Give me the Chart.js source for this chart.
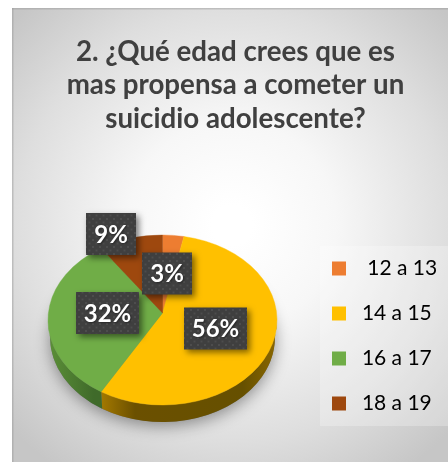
<!DOCTYPE html>
<html><head><meta charset="utf-8">
<style>html,body{margin:0;padding:0;background:#fff}canvas{display:block}</style>
<script src="https://cdn.jsdelivr.net/npm/chart.js@4"></script></head>
<body><div style="width:448px;height:462px"><canvas id="c" width="448" height="462"></canvas></div>
<script>
const titleLines = ['2. ¿Qué edad crees que es','mas propensa a cometer un','suicidio adolescente?'];
const categories = ['12 a 13','14 a 15','16 a 17','18 a 19'];
const values = [3,56,32,9];
const colors = ['#ED7D31','#FFC000','#70AD47','#9E480E'];
const labelCenters = [[167,273.5],[215.5,328.5],[107.5,313],[111,234]];
const font = 'Lato, Carlito, sans-serif';
const total = values.reduce((a,b)=>a+b,0);
const SX = 1.347, DEPTH = 17, APEX = -7;

const page = {
  id:'page',
  afterLayout(c){
    const a=c.chartArea;
    a.left=77.5;a.right=247.5;a.top=235;a.bottom=405;a.width=170;a.height=170;
    const l=c.legend, w=l.width;
    l.left=308;l.right=308+w;l.top=216;l.bottom=456;
  },
  beforeDraw(c){
    const x=c.ctx; x.save();
    const g=x.createRadialGradient(232,225,20,232,225,300);
    g.addColorStop(0,'#ffffff');g.addColorStop(.3,'#f7f7f7');g.addColorStop(.7,'#dedede');g.addColorStop(1,'#c6c6c6');
    x.fillStyle=g;x.fillRect(12,8,436,454);
    x.fillStyle='rgba(150,150,150,.45)';x.fillRect(12,8,436,1.5);x.fillRect(12,8,1.5,454);
    x.fillStyle='rgba(255,255,255,.25)';x.fillRect(320,246,128,180);
    x.restore();
  },
  beforeDatasetsDraw(c){
    const x=c.ctx, arcs=c.getDatasetMeta(0).data, a0=arcs[0];
    const cx=a0.x, cy=a0.y, ry=a0.outerRadius, rx=ry*SX, brx=rx-2;
    x.save();
    x.save();x.shadowColor='rgba(0,0,0,.4)';x.shadowBlur=16;x.shadowOffsetY=4;
    x.fillStyle='#777';x.beginPath();x.ellipse(cx,cy+DEPTH,brx,ry,0,0,Math.PI*2);x.fill();x.restore();
    const side=(a,b,stops)=>{
      if(b<=a)return;
      const g=x.createLinearGradient(cx-rx,0,cx+rx,0);
      stops.forEach(s=>g.addColorStop(s[0],s[1]));
      x.fillStyle=g;x.beginPath();
      x.ellipse(cx,cy,rx,ry,0,a,b,false);
      x.ellipse(cx,cy+DEPTH,brx,ry,0,b,a,true);
      x.closePath();x.fill();
    };
    const walls=[null,[[0,'#a87c00'],[.22,'#a87c00'],[.38,'#6b5000'],[.85,'#665000'],[1,'#8a6700']],[[0,'#5c9038'],[.2,'#3f6a2a'],[1,'#3f6a2a']],null];
    arcs.forEach((el,i)=>{
      if(!walls[i])return;
      const p=el.getProps(['startAngle','endAngle'],true);
      side(Math.max(p.startAngle,0),Math.min(p.endAngle,Math.PI),walls[i]);
    });
    arcs.forEach((el,i)=>{
      const p=el.getProps(['startAngle','endAngle'],true);
      x.fillStyle=colors[i];x.strokeStyle=colors[i];x.lineWidth=.4;
      x.beginPath();x.moveTo(cx,cy+APEX);
      x.ellipse(cx,cy,rx,ry,0,p.startAngle,p.endAngle,false);
      x.closePath();x.fill();x.stroke();
    });
    x.restore();
    return false;
  },
  afterDraw(c){
    const x=c.ctx;
    const pc=document.createElement('canvas');pc.width=pc.height=7;
    const q=pc.getContext('2d');q.fillStyle='#3f3f3f';q.fillRect(0,0,7,7);
    q.fillStyle='#4d4d4d';q.fillRect(1,1,2,2);q.fillRect(4.5,4.5,2,2);
    const pat=x.createPattern(pc,'repeat');
    values.forEach((v,i)=>{
      const t=Math.round(v/total*100)+'%';
      const [mx,my]=labelCenters[i];
      const w=t.length>2?63:50,h=42;
      x.save();
      x.shadowColor='rgba(0,0,0,.5)';x.shadowBlur=6;x.shadowOffsetX=3;x.shadowOffsetY=3;
      x.fillStyle=pat;x.fillRect(mx-w/2,my-h/2,w,h);
      x.restore();
      x.save();
      x.fillStyle='#fff';x.font='bold 24px '+font;x.textAlign='center';x.textBaseline='middle';
      x.shadowColor='rgba(0,0,0,.4)';x.shadowBlur=2;x.shadowOffsetX=1;x.shadowOffsetY=1;
      x.fillText(t,mx,my+1);
      x.restore();
    });
  }
};

new Chart(document.getElementById('c'),{
  type:'pie',
  data:{labels:categories,datasets:[{data:values,backgroundColor:colors,borderWidth:0}]},
  plugins:[page],
  options:{
    responsive:false,animation:false,
    layout:{padding:{left:23,right:0,top:35,bottom:20}},
    plugins:{
      tooltip:{enabled:false},
      title:{display:true,text:titleLines,color:'#404040',font:{family:font,size:27.7,weight:'bold',lineHeight:1.21},padding:{top:0,bottom:40}},
      legend:{position:'right',align:'center',labels:{
        color:'#4a4a4a',boxWidth:14,boxHeight:14,padding:24,font:{family:font,size:21},
        generateLabels(ch){
          return categories.map((n,i)=>({text:(i===0?'  ':' ')+n,fillStyle:colors[i],strokeStyle:colors[i],lineWidth:0,index:i,hidden:false}));
        }
      }}
    }
  }
});
</script></body></html>
